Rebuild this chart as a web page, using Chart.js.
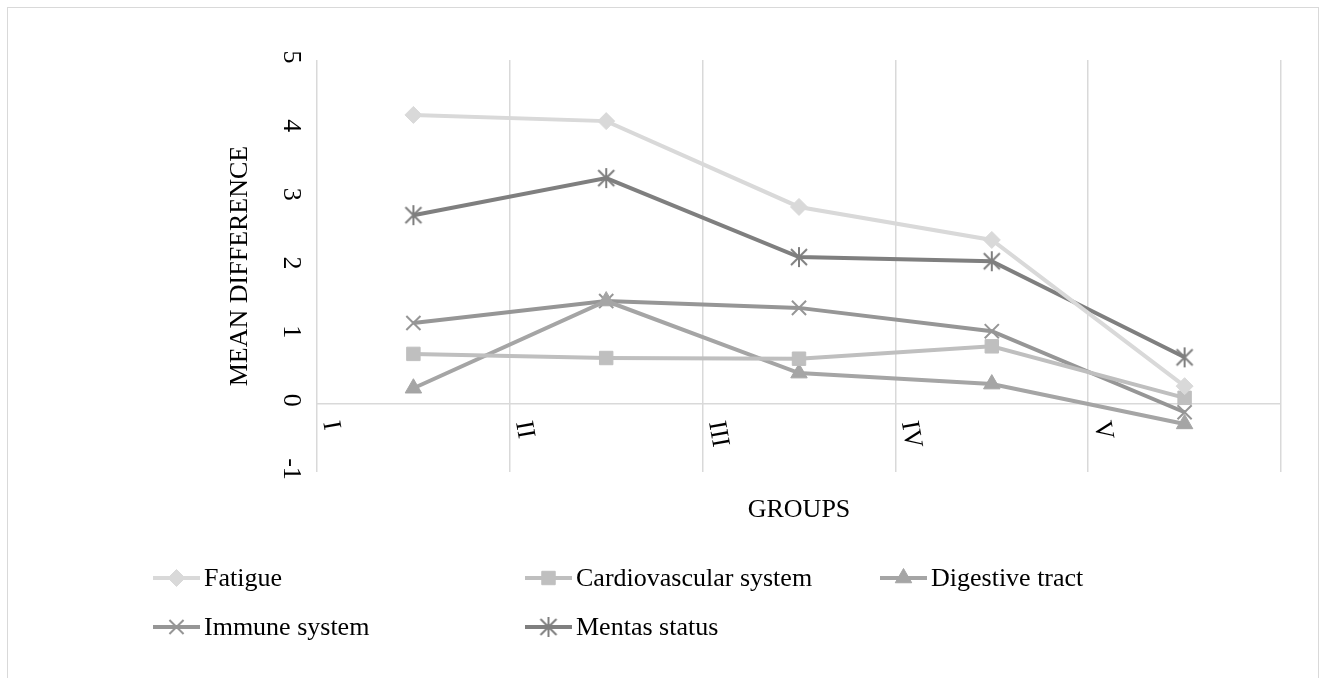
<!DOCTYPE html>
<html>
<head>
<meta charset="utf-8">
<script src="https://cdn.jsdelivr.net/npm/chart.js@4"></script>
<style>
  html, body { margin: 0; padding: 0; background: #fff; }
  #wrap { position: relative; width: 1327px; height: 678px; }
  #frame { position: absolute; left: 7px; top: 7px; width: 1312px; height: 690px; border: 1.5px solid #d9d9d9; box-sizing: border-box; }
  canvas#c { position: absolute; left: 0; top: 0; }
</style>
</head>
<body>
<div id="wrap">
  <div id="frame"></div>
  <canvas id="c" width="1327" height="678"></canvas>
</div>
<script>
const categories = ['I', 'II', 'III', 'IV', 'V'];
const yTickLabels = ['-1', '0', '1', '2', '3', '4', '5'];
const fatigue = [4.20, 4.11, 2.86, 2.38, 0.25];
const cardiovascular = [0.72, 0.66, 0.65, 0.83, 0.08];
const digestive = [0.22, 1.49, 0.44, 0.28, -0.30];
const immune = [1.17, 1.49, 1.39, 1.05, -0.13];
const mental = [2.74, 3.28, 2.13, 2.07, 0.67];
const seriesNames = ['Fatigue', 'Cardiovascular system', 'Digestive tract', 'Immune system', 'Mentas status'];
const yTitle = 'MEAN DIFFERENCE';
const xTitle = 'GROUPS';

const FONT = '"Liberation Serif", "Times New Roman", serif';

// Excel-style star marker: X plus a vertical bar
function starMarker(color) {
  const s = 22, c = document.createElement('canvas');
  c.width = s; c.height = s;
  const g = c.getContext('2d');
  g.strokeStyle = color; g.lineWidth = 2;
  g.beginPath();
  g.moveTo(3, 3); g.lineTo(s - 3, s - 3);
  g.moveTo(s - 3, 3); g.lineTo(3, s - 3);
  g.moveTo(s / 2, 1); g.lineTo(s / 2, s - 1);
  g.stroke();
  return c;
}

function ds(label, data, color, style, radius) {
  return {
    label, data,
    borderColor: color, backgroundColor: color,
    pointBackgroundColor: color, pointBorderColor: color,
    borderWidth: 4, pointStyle: style, pointRadius: radius,
    pointBorderWidth: (style === 'crossRot') ? 2 : 1,
    pointHoverRadius: radius, tension: 0, fill: false
  };
}

const datasets = [
  ds(seriesNames[0], fatigue, '#d9d9d9', 'rectRot', 8.5),
  ds(seriesNames[1], cardiovascular, '#bfbfbf', 'rect', 9.5),
  ds(seriesNames[2], digestive, '#a5a5a5', 'triangle', 9.5),
  ds(seriesNames[3], immune, '#969696', 'crossRot', 10),
  ds(seriesNames[4], mental, '#7f7f7f', starMarker('#7f7f7f'), 10)
];

const legendPos = [
  { x: 153, y: 578 }, { x: 525, y: 578 }, { x: 880, y: 578 },
  { x: 153, y: 627 }, { x: 525, y: 627 }
];

const textPlugin = {
  id: 'texts',
  afterDraw(chart) {
    const ctx = chart.ctx;
    const xs = chart.scales.x, ys = chart.scales.y;
    const area = chart.chartArea;
    ctx.save();
    ctx.fillStyle = '#000';
    ctx.font = '26px ' + FONT;
    // y tick labels, rotated clockwise
    yTickLabels.forEach(t => {
      const py = ys.getPixelForValue(Number(t));
      ctx.save();
      ctx.translate(291, py - 3);
      ctx.rotate(Math.PI / 2);
      ctx.textAlign = 'center';
      ctx.textBaseline = 'middle';
      ctx.fillText(t, 0, 0);
      ctx.restore();
    });
    // category labels at the left boundary of each category
    const half = (xs.getPixelForValue(1) - xs.getPixelForValue(0)) / 2;
    categories.forEach((c, i) => {
      const gx = xs.getPixelForValue(i) - half;
      ctx.save();
      ctx.translate(gx + 13, ys.getPixelForValue(0) + 18);
      ctx.rotate(80 * Math.PI / 180);
      ctx.textAlign = 'left';
      ctx.textBaseline = 'middle';
      ctx.fillText(c, 0, 0);
      ctx.restore();
    });
    // y title
    ctx.save();
    ctx.translate(240, (area.top + area.bottom) / 2);
    ctx.rotate(-Math.PI / 2);
    ctx.textAlign = 'center';
    ctx.textBaseline = 'middle';
    ctx.fillText(yTitle, 0, 0);
    ctx.restore();
    // x title
    ctx.textAlign = 'center';
    ctx.textBaseline = 'middle';
    ctx.fillText(xTitle, (area.left + area.right) / 2, 510);
    // legend
    chart.data.datasets.forEach((d, i) => {
      const p = legendPos[i];
      ctx.save();
      ctx.strokeStyle = d.borderColor;
      ctx.fillStyle = d.borderColor;
      ctx.lineWidth = 4;
      ctx.beginPath();
      ctx.moveTo(p.x, p.y);
      ctx.lineTo(p.x + 47, p.y);
      ctx.stroke();
      ctx.lineWidth = d.pointBorderWidth;
      Chart.helpers.drawPoint(ctx, {
        pointStyle: d.pointStyle, radius: d.pointRadius, borderWidth: d.pointBorderWidth, rotation: 0
      }, p.x + 23.5, p.y);
      ctx.restore();
      ctx.save();
      ctx.fillStyle = '#000';
      ctx.font = '26px ' + FONT;
      ctx.textAlign = 'left';
      ctx.textBaseline = 'middle';
      ctx.fillText(d.label, p.x + 51, p.y + 1);
      ctx.restore();
    });
    ctx.restore();
  }
};

new Chart(document.getElementById('c'), {
  type: 'line',
  data: { labels: categories, datasets },
  options: {
    responsive: false,
    animation: false,
    layout: { padding: { left: 317, right: 46, top: 60, bottom: 206 } },
    plugins: { legend: { display: false }, tooltip: { enabled: false } },
    scales: {
      x: {
        type: 'category', offset: true,
        grid: { offset: true, color: '#d9d9d9', lineWidth: 1.5, tickLength: 0, drawTicks: false },
        border: { display: false },
        ticks: { display: false }
      },
      y: {
        min: -1, max: 5,
        ticks: { display: false, stepSize: 1 },
        grid: { color: c => (c.tick && c.tick.value === 0) ? '#d9d9d9' : 'rgba(0,0,0,0)', lineWidth: 1.5, drawTicks: false, tickLength: 0 },
        border: { display: false }
      }
    }
  },
  plugins: [textPlugin]
});
</script>
</body>
</html>
